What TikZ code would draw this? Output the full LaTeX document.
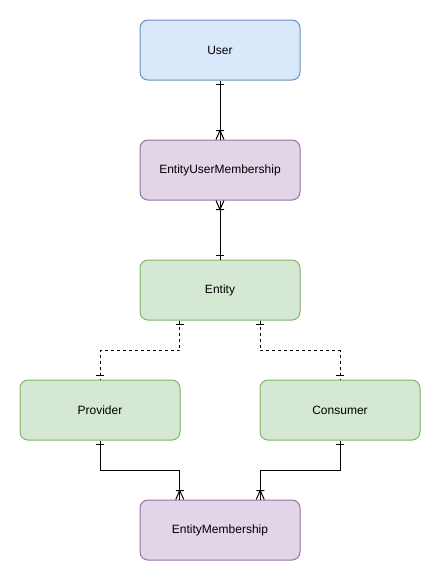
\documentclass[tikz,border=0pt]{standalone}
\usepackage{fontspec}
\setmainfont{Liberation Sans}
\usetikzlibrary{calc}
\usetikzlibrary{decorations.markings}

\definecolor{bluefill}{HTML}{DAE8FC}
\definecolor{blueline}{HTML}{6C8EBF}
\definecolor{greenfill}{HTML}{D5E8D4}
\definecolor{greenline}{HTML}{82B366}
\definecolor{purplefill}{HTML}{E1D5E7}
\definecolor{purpleline}{HTML}{9673A6}

\begin{document}
\begin{tikzpicture}[x=1pt, y=-1pt, line width=1pt,
    box/.style={draw, rounded corners=8pt, minimum width=160pt, minimum height=60pt,
      inner sep=0pt, font=\fontsize{12}{14}\selectfont},
    userbox/.style={box, fill=bluefill, draw=blueline},
    linkbox/.style={box, fill=purplefill, draw=purpleline},
    entitybox/.style={box, fill=greenfill, draw=greenline},
    onestart/.style={postaction={decorate, decoration={markings,
      mark=at position 4pt with {\draw[solid] (0,-4pt) -- (0,4pt);}}}},
    oneend/.style={postaction={decorate, decoration={markings,
      mark=at position -4pt with {\draw[solid] (0,-4pt) -- (0,4pt);}}}},
    manyend/.style={postaction={decorate, decoration={markings,
      mark=at position 1 with {\draw[solid] (-9pt,0) -- (0,4pt) (-9pt,0) -- (0,-4pt)
        (-9pt,-4pt) -- (-9pt,4pt);}}}},
    optional/.style={dash pattern=on 3pt off 3pt}]
  \path[use as bounding box] (0, 0) rectangle (441, 581);

  \node[userbox] at (220, 50) (user) {User};
  \node[linkbox] at (220, 170) (eum) {EntityUserMembership};
  \node[entitybox] at (220, 290) (entity) {Entity};
  \node[entitybox] at (100, 410) (provider) {Provider};
  \node[entitybox] at (340, 410) (consumer) {Consumer};
  \node[linkbox] at (220, 530) (em) {EntityMembership};

  % one to many
  \draw[onestart, manyend] (user.south) -- (eum.north);
  \draw[onestart, manyend] (entity.north) -- (eum.south);

  % entity kinds
  \draw[optional, onestart, oneend] ($(entity.south)!0.5!(entity.south west)$)
    -- ++(0, 30) -| (provider.north);
  \draw[optional, onestart, oneend] ($(entity.south)!0.5!(entity.south east)$)
    -- ++(0, 30) -| (consumer.north);

  \draw[onestart, manyend] (provider.south)
    -- ++(0, 30) -| ($(em.north)!0.5!(em.north west)$);
  \draw[onestart, manyend] (consumer.south)
    -- ++(0, 30) -| ($(em.north)!0.5!(em.north east)$);
\end{tikzpicture}
\end{document}
